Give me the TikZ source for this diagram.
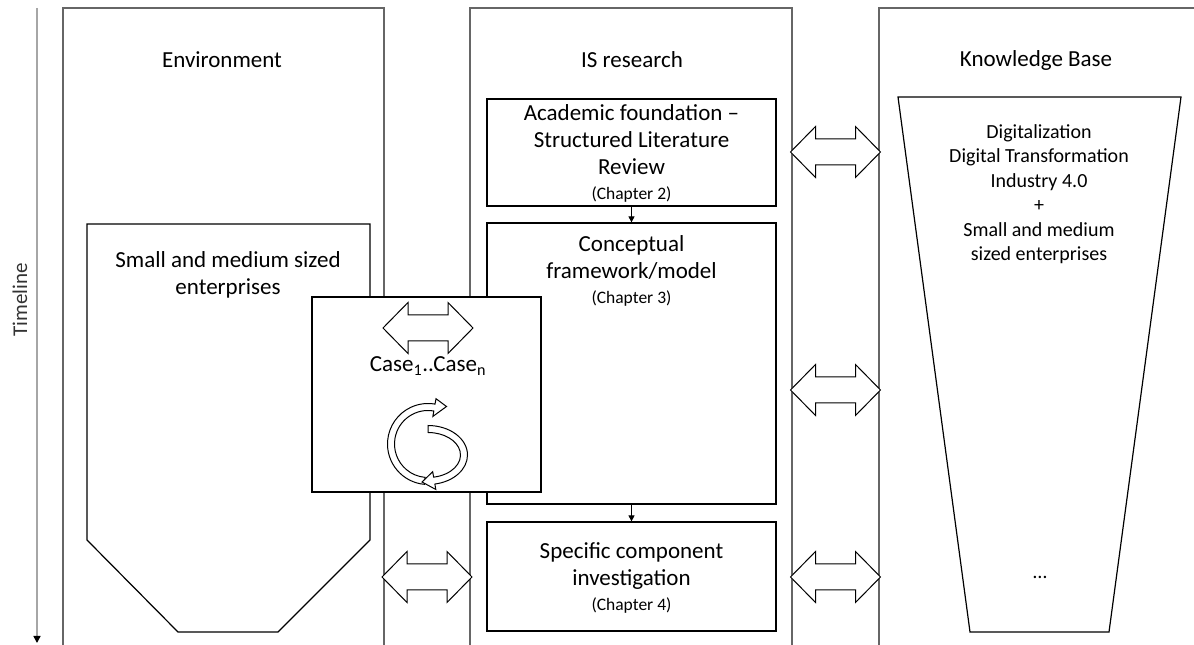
\documentclass[tikz,border=0pt]{standalone}
\usepackage{fontspec}
\setmainfont{Carlito}
\usetikzlibrary{arrows.meta,calc}
\definecolor{framegray}{gray}{0.4}
\definecolor{tlgray}{gray}{0.65}
\definecolor{txtgray}{gray}{0.2}

\newcommand\bigfont{\fontsize{23}{27}\selectfont}
\newcommand\chapfont{\fontsize{17.5}{20}\selectfont}
\newcommand\kbfont{\fontsize{20}{24.5}\selectfont}

\begin{document}
\begin{tikzpicture}[x=1pt,y=1pt,
  frame/.style={draw=framegray, line width=1.1pt},
  outline/.style={draw=black, line width=1.2pt, line join=miter},
  box/.style={draw=black, line width=1.2pt, fill=white, inner sep=0pt},
  txt/.style={align=center, font=\bigfont, inner sep=0pt},
  link/.style={line width=0.8pt, -{Triangle[length=6pt,width=6pt]}},
  band/.style={draw=black, line width=1pt, fill=white, line join=miter},
  dblarr/.pic={\draw[band] (-45,0) -- (-20,25.5) -- (-20,13) -- (20,13) -- (20,25.5)
      -- (45,0) -- (20,-25.5) -- (20,-13) -- (-20,-13) -- (-20,-25.5) -- cycle;}
]
\useasboundingbox (0,0) rectangle (1194,645);

% timeline on the left
\coordinate (tltop) at (37,637);
\coordinate (tlbot) at (37,2);
\draw[tlgray, line width=1.5pt, -{Triangle[color=black,length=7pt,width=7pt]}] (tltop) -- (tlbot);
\node[rotate=90, font=\fontsize{21}{25}\selectfont, text=txtgray, inner sep=0pt] (tl) at (20,345) {Timeline};

% the three columns (open at the bottom)
\draw[frame] (63,-2) -- (63,637) -- (384,637) -- (384,-2);
\draw[frame] (470,-2) -- (470,637) -- (792,637) -- (792,-2);
\draw[frame] (879,-2) -- (879,637) -- (1200,637);

\node[txt] (envhead) at (222,585) {Environment};
\node[txt] (ishead) at (632,585) {IS research};
\node[txt] (kbhead) at (1036,585) {Knowledge Base};

% environment: SME container
\draw[outline] (87,421) -- (370,421) -- (370,105) -- (278,13) -- (178,13) -- (87,105) -- cycle;
\node[txt] (smetxt) at (228,370) {Small and medium sized\\enterprises};

% knowledge base funnel
\draw[outline] (898,548) -- (1181,548) -- (1109,13) -- (970,13) -- cycle;
\node[txt, font=\kbfont] (kbtxt) at (1039,451) {Digitalization\\Digital Transformation\\Industry 4.0\\+\\Small and medium\\sized enterprises};
\node[txt, font=\kbfont] (kbmore) at (1040,68) {…};

% IS research steps
\node[box, minimum width=289pt, minimum height=107pt] (acad) at (631.5,492.5) {};
\node[txt] (acadtxt) at (631.5,492) {Academic foundation --\\Structured Literature\\Review\\[-2pt]{\chapfont (Chapter 2)}};

\node[box, minimum width=289pt, minimum height=281pt] (concept) at (631.5,281.5) {};
\node[txt] (concepttxt) at (631.5,374) {Conceptual\\framework/model\\[-2pt]{\chapfont (Chapter 3)}};

\node[box, minimum width=289pt, minimum height=109pt] (spec) at (631.5,68.5) {};
\node[txt] (spectxt) at (631.5,67) {Specific component\\investigation\\[-2pt]{\chapfont (Chapter 4)}};

\draw[link] (acad.south) -- (concept.north);
\draw[link] (concept.south) -- (spec.north);

% exchanges between the columns
\pic at (835.5,493) {dblarr};
\pic at (835.5,255) {dblarr};
\pic at (835.5,68) {dblarr};
\pic at (427,68) {dblarr};

% case study box
\node[box, minimum width=229pt, minimum height=195pt] (casebox) at (426.5,250.5) {};
\pic at (428,317) {dblarr};
\node[txt] (casetxt) at (428,279) {Case\textsubscript{1}..Case\textsubscript{n}};

% cycle symbol
\coordinate (cA) at (428,201);
\coordinate (cB) at (428,190);
\draw[band] ($(cA)+(265:40.5)$) arc[start angle=265, end angle=80, radius=40.5]
  -- ($(cA)+(80:46)$) -- (446.5,238.5) -- ($(cA)+(80:28)$) -- ($(cA)+(80:33.5)$)
  arc[start angle=80, end angle=265, radius=33.5] -- cycle;
\draw[band] ($(cB)+(90:39.5 and 29.5)$) arc[start angle=90, end angle=-80, x radius=39.5, y radius=29.5]
  -- ($(cB)+(-80:45 and 35)$) -- (422,163) -- ($(cB)+(-80:27 and 17)$) -- ($(cB)+(-80:32.5 and 22.5)$)
  arc[start angle=-80, end angle=90, x radius=32.5, y radius=22.5] -- cycle;
\end{tikzpicture}
\end{document}
